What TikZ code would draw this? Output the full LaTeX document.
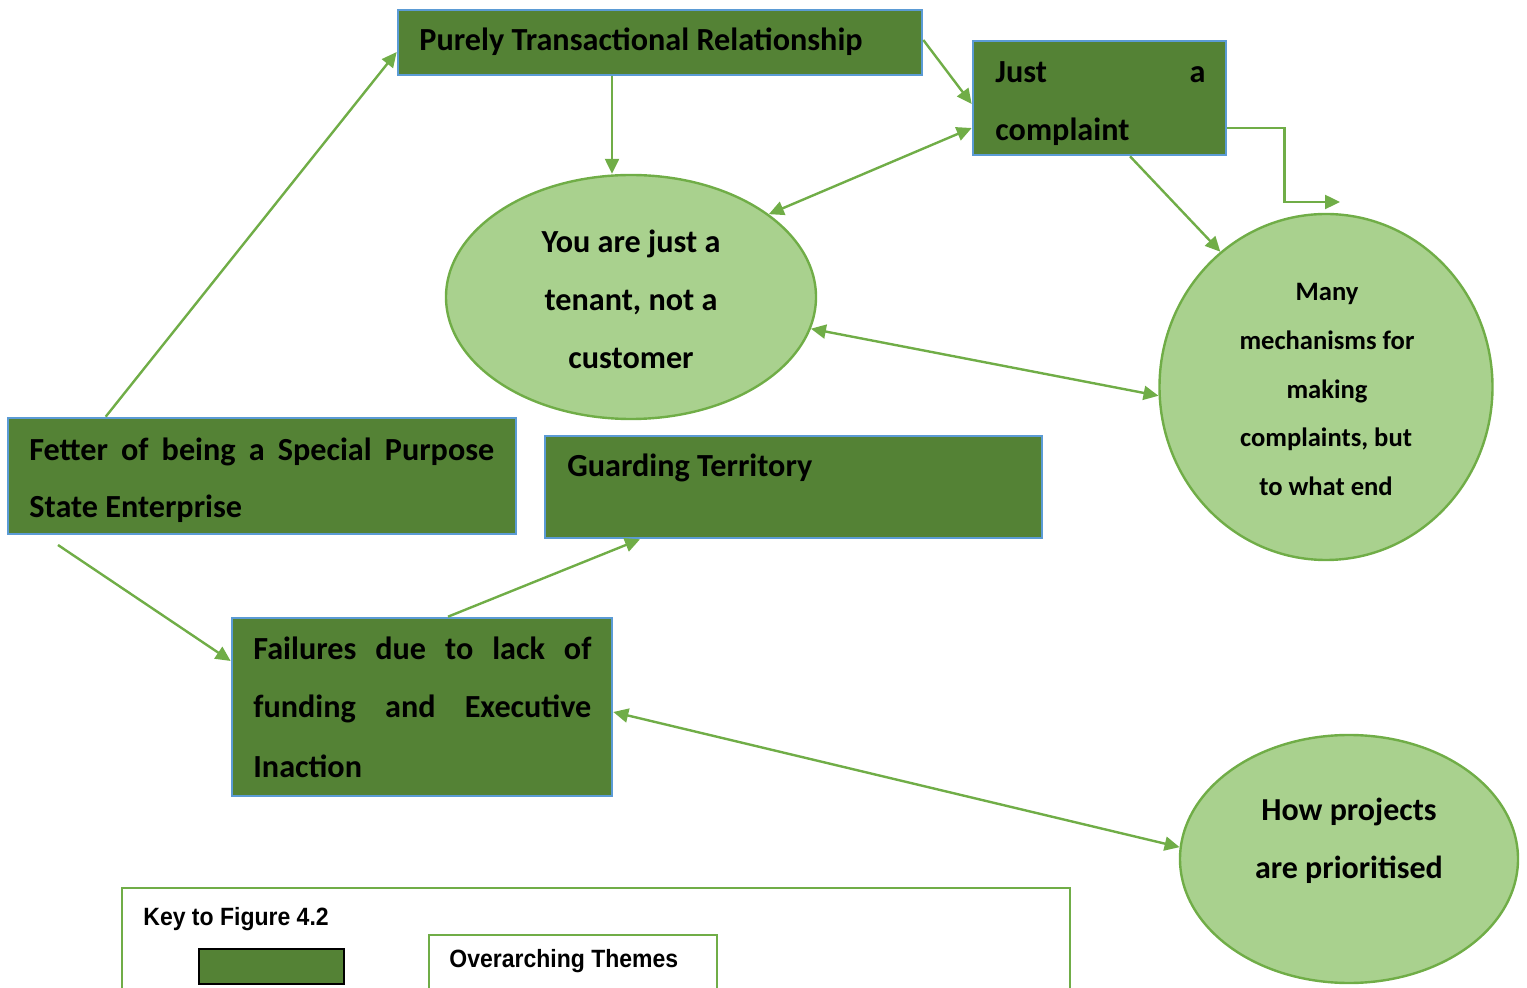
\documentclass[tikz,border=0pt]{standalone}
\usepackage{fontspec}
\setmainfont{Carlito}
\newfontfamily\keyfont[FakeStretch=0.92]{Liberation Sans}
\usetikzlibrary{shapes.geometric,arrows.meta}
\definecolor{themegreen}{HTML}{548235}
\definecolor{themeborder}{HTML}{5B9BD5}
\definecolor{subfill}{HTML}{A9D18E}
\definecolor{subborder}{HTML}{70AD47}
\definecolor{linkgreen}{HTML}{70AD47}
\tikzset{
  theme/.style={rectangle, fill=themegreen, draw=themeborder, line width=1.3pt, inner sep=0pt},
  subtheme/.style={ellipse, fill=subfill, draw=subborder, line width=1.2pt, inner sep=0pt},
  lbl/.style={font=\fontsize{16.1}{19}\selectfont\bfseries, inner sep=0pt},
  smalllbl/.style={font=\fontsize{13.3}{16}\selectfont\bfseries, inner sep=0pt},
  biglbl/.style={font=\fontsize{16}{19}\selectfont\bfseries, inner sep=0pt},
  keylbl/.style={font=\fontsize{12.5}{15}\selectfont\keyfont\bfseries, inner sep=0pt},
  tip/.tip={Triangle[length=7.5pt,width=7pt]},
  link/.style={draw=linkgreen, line width=1.2pt, -tip},
  duallink/.style={draw=linkgreen, line width=1.2pt, tip-tip},
}
\begin{document}
\begin{tikzpicture}[x=0.5pt,y=-0.5pt]
\useasboundingbox (0,0) rectangle (1527,988);
\clip (0,0) rectangle (1527,988);

% overarching themes (rectangles)
\node[theme, minimum width=262pt, minimum height=32.5pt] (ptr) at (660,42.5) {};
\node[lbl, anchor=base west] (ptrtext) at (419,51) {Purely Transactional Relationship};

\node[theme, minimum width=126.5pt, minimum height=57pt] (jac) at (1099.5,98) {};
\node[lbl, anchor=base west] (jactext1) at (995,83) {\makebox[105pt][s]{Just a}};
\node[lbl, anchor=base west] (jactext2) at (995,141) {complaint};

\node[theme, minimum width=254pt, minimum height=58pt] (fet) at (262,476) {};
\node[lbl, anchor=base west] (fettext1) at (29,461) {\makebox[232.5pt][s]{Fetter of being a Special Purpose}};
\node[lbl, anchor=base west] (fettext2) at (29,518) {State Enterprise};

\node[theme, minimum width=248.5pt, minimum height=51pt] (guard) at (793.5,487) {};
\node[lbl, anchor=base west] (guardtext) at (567,477) {Guarding Territory};

\node[theme, minimum width=190pt, minimum height=89pt] (fail) at (422,707) {};
\node[lbl, anchor=base west] (failtext1) at (253,660) {\makebox[169pt][s]{Failures due to lack of}};
\node[lbl, anchor=base west] (failtext2) at (253,718) {\makebox[169pt][s]{funding and Executive}};
\node[lbl, anchor=base west] (failtext3) at (253,777) {Inaction};

% sub-themes (ellipses)
\node[subtheme, minimum width=185pt, minimum height=122pt] (you) at (631,297) {};
\node[lbl, anchor=base] (youtext1) at (631,253) {You are just a};
\node[lbl, anchor=base] (youtext2) at (631,311) {tenant, not a};
\node[lbl, anchor=base] (youtext3) at (631,369) {customer};

\node[subtheme, minimum width=166.5pt, minimum height=173pt] (many) at (1326,387) {};
\node[smalllbl, anchor=base] (manytext1) at (1327,301) {Many};
\node[smalllbl, anchor=base] (manytext2) at (1327,350) {mechanisms for};
\node[smalllbl, anchor=base] (manytext3) at (1327,399) {making};
\node[smalllbl, anchor=base] (manytext4) at (1326,447) {complaints, but};
\node[smalllbl, anchor=base] (manytext5) at (1326,496) {to what end};

\node[subtheme, minimum width=169pt, minimum height=124pt] (how) at (1349,859) {};
\node[biglbl, anchor=base] (howtext1) at (1349,820) {How projects};
\node[biglbl, anchor=base] (howtext2) at (1349,878) {are prioritised};

% connectors
\coordinate (elbowend) at (1340,202);
\coordinate (fetfoot) at (58,545);
\draw[link] ([xshift=49.5pt]fet.north west) -- ([yshift=-4.75pt]ptr.west);
\draw[link] ([xshift=-24pt]ptr.south) -- ([xshift=-24pt]ptr.south |- you.north);
\draw[link] ([yshift=1.25pt]ptr.east) -- ([yshift=-3pt]jac.west);
\draw[duallink] ([yshift=-15pt]jac.west) -- (you.31);
\draw[link] ([yshift=-15pt]jac.east) -- ++(28.5pt,0) |- (elbowend);
\draw[link] ([xshift=15.25pt]jac.south) -- (many.128);
\draw[duallink] (you.-10) -- (many.183);
\draw[link] (fetfoot) -- ([yshift=23pt]fail.west);
\draw[link] ([xshift=13pt]fail.north) -- ([xshift=-76.75pt]guard.south);
\draw[duallink] ([yshift=-2.5pt]fail.east) -- (how.176);

% key
\node[rectangle, draw=subborder, line width=1.2pt, fill=white, minimum width=474pt, minimum height=80pt, anchor=north west, inner sep=0pt] (keybox) at (121,887) {};
\node[keylbl, anchor=base west] (keytitle) at (143,925) {Key to Figure 4.2};
\node[rectangle, draw=black, line width=0.8pt, fill=themegreen, minimum width=72.5pt, minimum height=17.5pt, anchor=north west, inner sep=0pt] (keyswatch) at (198,948) {};
\node[rectangle, draw=subborder, line width=1.2pt, fill=white, minimum width=144pt, minimum height=40pt, anchor=north west, inner sep=0pt] (keylabelbox) at (428,934) {};
\node[keylbl, anchor=base west] (keylabel) at (449,967) {Overarching Themes};
\end{tikzpicture}
\end{document}
